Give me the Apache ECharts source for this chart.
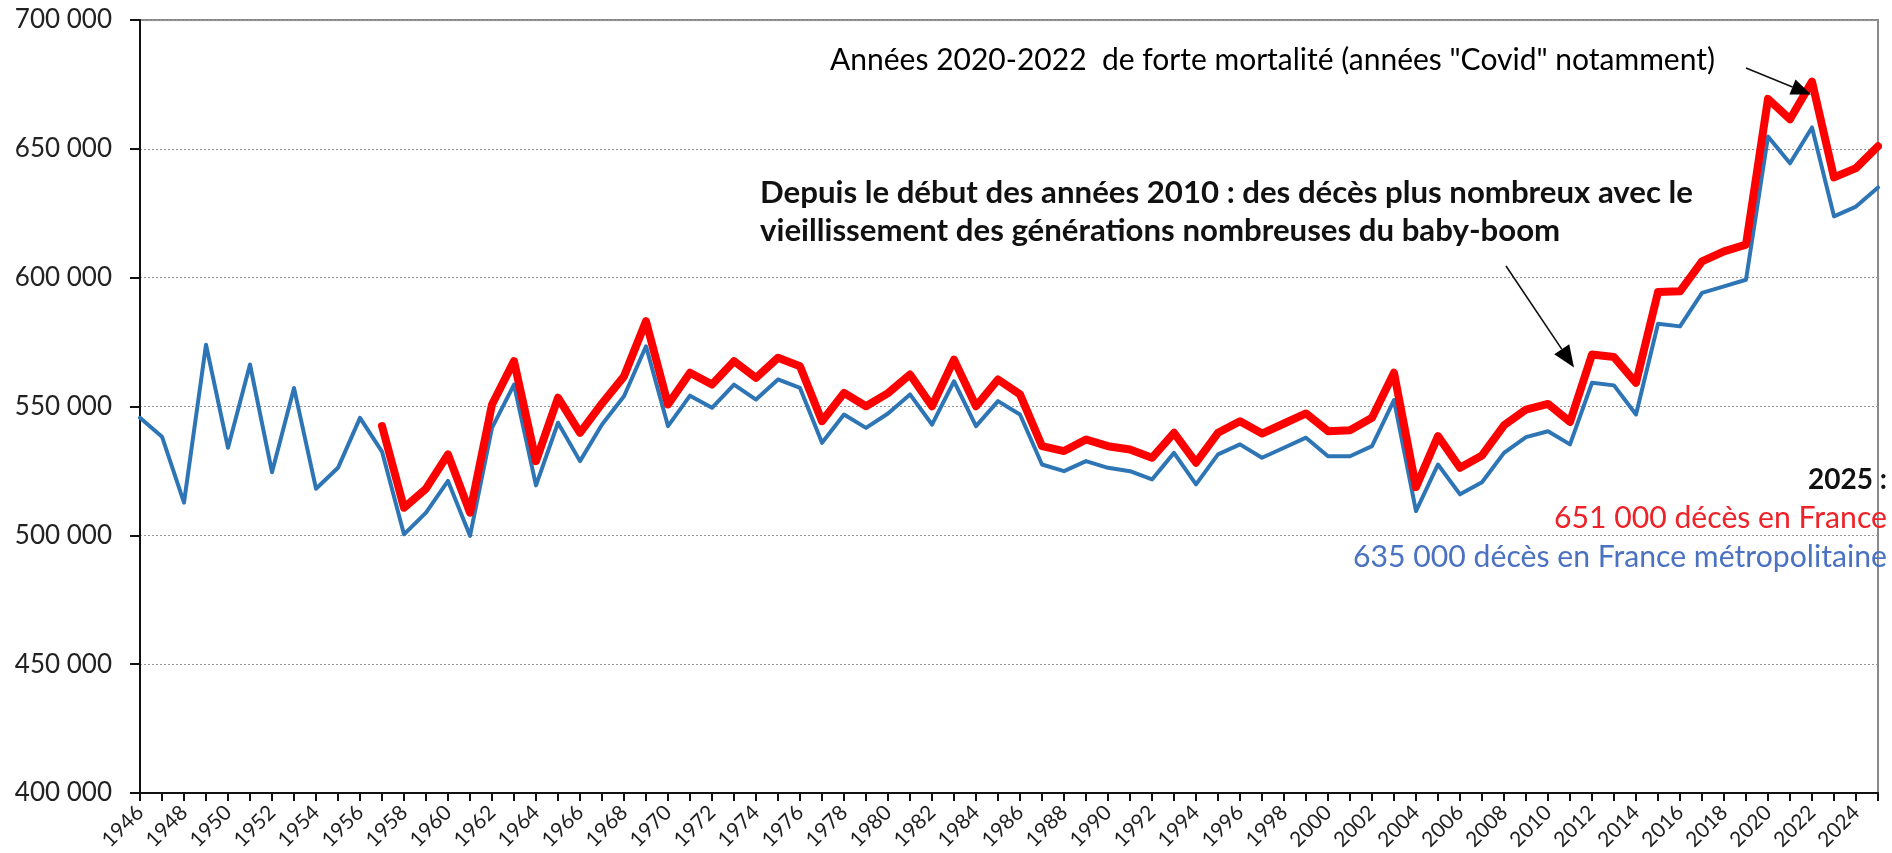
<!DOCTYPE html>
<html><head><meta charset="utf-8">
<script src="https://cdn.jsdelivr.net/npm/echarts@6/dist/echarts.min.js"></script>
<style>html,body{margin:0;padding:0;background:#fff}#c{width:1892px;height:853px}</style>
</head><body><div id="c"></div>
<script>
const years = ['1946','1947','1948','1949','1950','1951','1952','1953','1954','1955','1956','1957','1958','1959','1960','1961','1962','1963','1964','1965','1966','1967','1968','1969','1970','1971','1972','1973','1974','1975','1976','1977','1978','1979','1980','1981','1982','1983','1984','1985','1986','1987','1988','1989','1990','1991','1992','1993','1994','1995','1996','1997','1998','1999','2000','2001','2002','2003','2004','2005','2006','2007','2008','2009','2010','2011','2012','2013','2014','2015','2016','2017','2018','2019','2020','2021','2022','2023','2024','2025'];

// Décès en France métropolitaine (blue)
const metro = [545600,538300,512700,574000,534000,566300,524500,557200,518100,526200,545600,532500,500400,508800,521100,499800,541700,558500,519400,543700,528800,543000,554000,573400,542400,554200,549500,558500,552700,560500,557200,535900,546900,541700,547300,554700,543000,559800,542400,552100,546900,527500,524900,528800,526200,524900,521700,532000,519800,531400,535300,530100,534000,537900,530700,530700,534600,552500,509400,527500,515900,520600,532000,538100,540400,535300,559200,558200,546900,582100,581100,594100,596600,599200,654800,644400,658300,623800,627600,635000];

// Décès en France (red), from 1957
const france = [null,null,null,null,null,null,null,null,null,null,null,542400,510700,518100,531400,508800,550800,567600,528800,553400,539800,551200,561700,583100,550800,563100,558500,567600,561100,568900,565600,544300,555300,550100,555200,562400,550100,568200,550100,560500,554700,534600,532700,537200,534600,533300,530100,539800,528200,539800,544300,539500,543400,547300,540400,540800,545600,563100,518700,538500,526200,531000,542700,548800,551000,544000,570200,569200,559200,594400,594700,606300,610200,612800,669400,661500,676100,638900,642500,651000];

const yTicks = {min: 400000, max: 700000, step: 50000};

const annot1 = 'Années 2020-2022  de forte mortalité (années "Covid" notamment)';
const annot2a = 'Depuis le début des années 2010 : des décès plus nombreux avec le';
const annot2b = 'vieillissement des générations nombreuses du baby-boom';
const note2025 = '2025 :';
const noteFrance = '651 000 décès en France';
const noteMetro = '635 000 décès en France métropolitaine';

const FONT = 'Lato, "Liberation Sans", Arial, sans-serif';
const fmt = v => String(v).replace(/\B(?=(\d{3})+(?!\d))/g, ' ');

const chart = echarts.init(document.getElementById('c'), null, {renderer: 'canvas'});
chart.setOption({
  animation: false,
  backgroundColor: '#fff',
  grid: {left: 140, right: 14, top: 20, bottom: 60, show: true, borderColor: '#8a8a8a', borderWidth: 2, containLabel: false},
  xAxis: {
    type: 'category', data: years, boundaryGap: false,
    axisLine: {lineStyle: {color: '#111', width: 2}},
    axisTick: {show: true, interval: 0, length: 8, lineStyle: {color: '#111', width: 2}},
    axisLabel: {interval: 1, rotate: 45, margin: 16, fontSize: 21, color: '#222', fontFamily: FONT},
    splitLine: {show: false}
  },
  yAxis: {
    type: 'value', min: yTicks.min, max: yTicks.max, interval: yTicks.step,
    axisLine: {show: true, lineStyle: {color: '#111', width: 2}},
    axisTick: {show: true, length: 10, lineStyle: {color: '#111', width: 2}},
    axisLabel: {formatter: fmt, fontSize: 26, color: '#222', margin: 28, fontFamily: FONT},
    splitLine: {show: true, lineStyle: {color: '#999', width: 1.2, type: [2, 2]}}
  },
  series: [
    {name: 'France métropolitaine', type: 'line', data: metro, symbol: 'none',
     lineStyle: {color: '#2E75B6', width: 4, join: 'round', cap: 'round'}, z: 2},
    {name: 'France', type: 'line', data: france, symbol: 'none', connectNulls: false,
     lineStyle: {color: '#FF0000', width: 8, join: 'round', cap: 'round'}, z: 3}
  ]
});

// text fitting helper
const cv = document.createElement('canvas').getContext('2d');
function measure(text, weight, size) { cv.font = weight + ' ' + size + 'px ' + FONT; return cv.measureText(text).width; }
function fit(texts, weight, targets) {
  let w = 0, t = 0;
  texts.forEach((s, i) => { w += measure(s, weight, 100); t += targets[i]; });
  return 100 * t / w;
}

const s1 = fit([annot1], 'normal', [885]);
const s2 = fit([annot2a, annot2b], 'bold', [931, 803]);
const s3 = fit([noteFrance, noteMetro], 'normal', [325, 542]);
const s4 = fit([note2025], 'bold', [79]);

function arrow(x1, y1, x2, y2, len, half) {
  const dx = x2 - x1, dy = y2 - y1, L = Math.hypot(dx, dy);
  const ux = dx / L, uy = dy / L;
  const bx = x2 - ux * len, by = y2 - uy * len;
  return [
    {type: 'line', shape: {x1: x1, y1: y1, x2: bx, y2: by}, style: {stroke: '#111', lineWidth: 1.6}, z: 10},
    {type: 'polygon', shape: {points: [[x2, y2], [bx - uy * half, by + ux * half], [bx + uy * half, by - ux * half]]}, style: {fill: '#000'}, z: 10}
  ];
}

const p2022 = chart.convertToPixel({gridIndex: 0}, ['2022', france[years.indexOf('2022')]]);
const p2012 = chart.convertToPixel({gridIndex: 0}, ['2012', france[years.indexOf('2012')]]);

function txt(x, y, text, size, weight, color, align) {
  return {type: 'text', x: x, y: y, z: 20, style: {text: text, font: weight + ' ' + size.toFixed(2) + 'px ' + FONT, fill: color,
    align: align, verticalAlign: 'middle', textAlign: align, textVerticalAlign: 'middle'}};
}

chart.setOption({
  graphic: [
    txt(830, 60, annot1, s1, 'normal', '#000', 'left'),
    txt(760, 193, annot2a, s2, 'bold', '#111', 'left'),
    txt(760, 231, annot2b, s2, 'bold', '#111', 'left'),
    txt(1887, 480, note2025, s4, 'bold', '#111', 'right'),
    txt(1887, 518, noteFrance, s3, 'normal', '#EE2229', 'right'),
    txt(1887, 557, noteMetro, s3, 'normal', '#4A72C0', 'right'),
    ...arrow(1746, 68, p2022[0] - 1, p2022[1] + 13, 20, 8),
    ...arrow(1506, 266, p2012[0] - 18, p2012[1] + 13, 22, 9)
  ]
});
</script>
</body></html>
